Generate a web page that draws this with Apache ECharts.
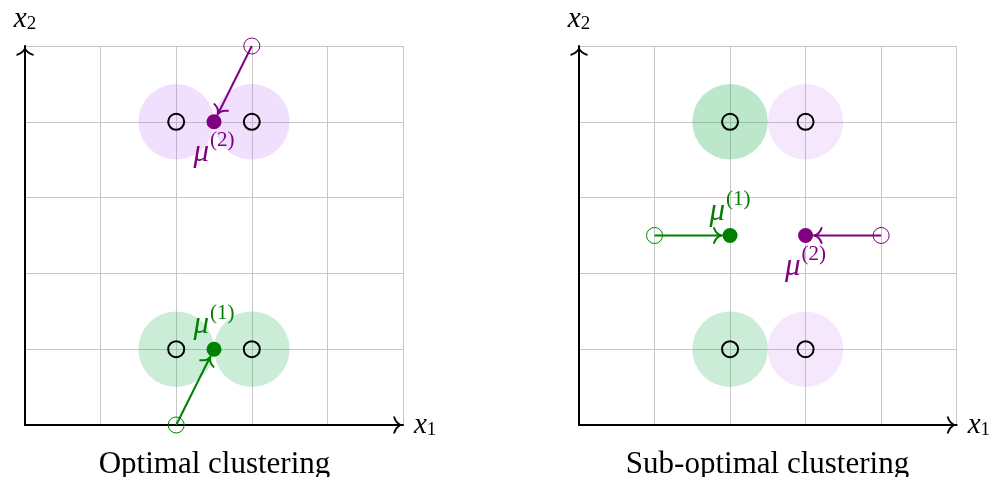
<!DOCTYPE html>
<html>
<head>
<meta charset="utf-8">
<script src="https://cdn.jsdelivr.net/npm/echarts@6/dist/echarts.min.js"></script>
<style>html,body{margin:0;padding:0;background:#fff}#c{width:993px;height:477px}</style>
</head>
<body>
<div id="c"></div>
<script>
// ---- data ----
const axisMin = 0, axisMax = 5, axisStep = 1;
const dataPoints = [[2, 1], [3, 1], [2, 4], [3, 4]];
const clusterRadius = 0.5;
// left panel (optimal)
const leftCluster1 = [[2, 1], [3, 1]];
const leftCluster2 = [[2, 4], [3, 4]];
const leftMu1 = [2.5, 1], leftMu1Start = [2, 0];
const leftMu2 = [2.5, 4], leftMu2Start = [3, 5];
// right panel (sub-optimal)
const rightCluster1 = [[2, 1], [2, 4]];
const rightCluster2 = [[3, 1], [3, 4]];
const rightMu1 = [2, 2.5], rightMu1Start = [1, 2.5];
const rightMu2 = [3, 2.5], rightMu2Start = [4, 2.5];
const panelTitles = ['Optimal clustering', 'Sub-optimal clustering'];
const muLabels = ['(1)', '(2)'];
const axisNames = ['1', '2'];

// ---- styles ----
const GREEN = '#008000', PURPLE = '#800080';
const SERIF = '"Liberation Serif", "DejaVu Serif", serif';
const arrowPath = 'path://M10,-0.5 Q12,6.5 20,9 L20,11.2 Q10.5,8.5 10,2.5 Q9.5,8.5 0,11.2 L0,9 Q8,6.5 10,-0.5 Z';

function nameRich() {
  return {rich: {
    v: {fontFamily: SERIF, fontStyle: 'italic', fontSize: 29, lineHeight: 30, color: '#000'},
    s: {fontFamily: SERIF, fontSize: 19, lineHeight: 14, verticalAlign: 'bottom', color: '#000'}
  }};
}
function axisLineCfg() {
  return {show: true, onZero: false, lineStyle: {color: '#000', width: 2},
    symbol: ['none', arrowPath], symbolSize: [17, 10], symbolOffset: [0, -5]};
}
function xAxisCfg(gi) {
  return {
    gridIndex: gi, type: 'value', min: axisMin, max: axisMax, interval: axisStep,
    axisLabel: {show: false}, axisTick: {show: false},
    splitLine: {show: true, lineStyle: {color: '#c6c6c6', width: 1}},
    axisLine: axisLineCfg(),
    name: '{v|x}{s|' + axisNames[0] + '}', nameLocation: 'end', nameGap: 11,
    nameTextStyle: nameRich()
  };
}
function yAxisCfg(gi) {
  return {
    gridIndex: gi, type: 'value', min: axisMin, max: axisMax, interval: axisStep,
    axisLabel: {show: false}, axisTick: {show: false},
    splitLine: {show: true, lineStyle: {color: '#c6c6c6', width: 1}},
    axisLine: axisLineCfg(),
    name: '{v|x}{s|' + axisNames[1] + '}', nameLocation: 'end', nameGap: 12,
    nameTextStyle: nameRich()
  };
}

function clusterSeries(gi, pts, fill) {
  return {
    type: 'custom', xAxisIndex: gi, yAxisIndex: gi, silent: true, z: 1,
    data: pts,
    renderItem: function (params, api) {
      const c = api.coord([api.value(0), api.value(1)]);
      const r = api.size([clusterRadius, clusterRadius])[0];
      return {type: 'circle', shape: {cx: c[0], cy: c[1], r: r}, style: {fill: fill}};
    }
  };
}
function pointsSeries(gi) {
  return {
    type: 'scatter', xAxisIndex: gi, yAxisIndex: gi, z: 5, silent: true,
    symbol: 'circle', symbolSize: 16,
    itemStyle: {color: 'rgba(0,0,0,0)', borderColor: '#000', borderWidth: 2, opacity: 1},
    data: dataPoints
  };
}
function arrowSeries(gi, from, to, color) {
  return {
    type: 'custom', xAxisIndex: gi, yAxisIndex: gi, silent: true, z: 4,
    encode: {x: [0, 2], y: [1, 3]},
    data: [[from[0], from[1], to[0], to[1]]],
    renderItem: function (params, api) {
      const p0 = api.coord([api.value(0), api.value(1)]);
      const p1 = api.coord([api.value(2), api.value(3)]);
      const dx = p1[0] - p0[0], dy = p1[1] - p0[1];
      const L = Math.hypot(dx, dy);
      const ux = dx / L, uy = dy / L, nx = -uy, ny = ux;
      const gap = 8.5;
      const tx = p1[0] - ux * gap, ty = p1[1] - uy * gap;
      const back = 7.5, w = 7.5;
      const bx = tx - ux * back, by = ty - uy * back;
      const cx = tx - ux * 5.5, cy = ty - uy * 5.5;
      const path = 'M' + (bx + nx * w) + ',' + (by + ny * w) +
        ' Q' + (cx + nx * 1.2) + ',' + (cy + ny * 1.2) + ' ' + tx + ',' + ty +
        ' Q' + (cx - nx * 1.2) + ',' + (cy - ny * 1.2) + ' ' + (bx - nx * w) + ',' + (by - ny * w);
      return {type: 'group', children: [
        {type: 'line', shape: {x1: p0[0], y1: p0[1], x2: tx, y2: ty}, style: {stroke: color, lineWidth: 2}},
        {type: 'path', shape: {pathData: path}, style: {stroke: color, fill: null, lineWidth: 2, lineCap: 'round'}}
      ]};
    }
  };
}
function startSeries(gi, pt, color) {
  return {
    type: 'scatter', xAxisIndex: gi, yAxisIndex: gi, z: 6, silent: true,
    symbol: 'circle', symbolSize: 16,
    itemStyle: {color: 'rgba(255,255,255,0)', borderColor: color, borderWidth: 1, opacity: 1},
    data: [pt]
  };
}
function muSeries(gi, pt, color, labelText, pos) {
  return {
    type: 'scatter', xAxisIndex: gi, yAxisIndex: gi, z: 7, silent: true,
    symbol: 'circle', symbolSize: 15,
    itemStyle: {color: color, opacity: 1},
    label: {
      show: true, position: pos, distance: 1,
      formatter: '{m|μ}{s|' + labelText + '}',
      rich: {
        m: {fontFamily: SERIF, fontStyle: 'italic', fontSize: 31, lineHeight: 38, color: color, verticalAlign: 'bottom'},
        s: {fontFamily: SERIF, fontSize: 21, lineHeight: 22, color: color, verticalAlign: 'top', padding: [0, 0, 0, 1]}
      }
    },
    data: [pt]
  };
}

const option = {
  animation: false,
  backgroundColor: '#fff',
  grid: [
    {left: 25, top: 46, width: 378, height: 379},
    {left: 579, top: 46, width: 378, height: 379}
  ],
  xAxis: [xAxisCfg(0), xAxisCfg(1)],
  yAxis: [yAxisCfg(0), yAxisCfg(1)],
  graphic: [
    {type: 'text', x: 214.5, y: 465, silent: true,
      style: {text: panelTitles[0], font: '31px ' + SERIF, fill: '#000', textAlign: 'center', textVerticalAlign: 'middle', align: 'center', verticalAlign: 'middle'}},
    {type: 'text', x: 767.5, y: 465, silent: true,
      style: {text: panelTitles[1], font: '31px ' + SERIF, fill: '#000', textAlign: 'center', textVerticalAlign: 'middle', align: 'center', verticalAlign: 'middle'}}
  ],
  series: [
    clusterSeries(0, leftCluster1, 'rgba(46,180,90,0.25)'),
    clusterSeries(0, leftCluster2, 'rgba(185,110,245,0.22)'),
    clusterSeries(1, [rightCluster1[0]], 'rgba(46,180,90,0.25)'),
    clusterSeries(1, [rightCluster1[1]], 'rgba(46,180,90,0.32)'),
    clusterSeries(1, rightCluster2, 'rgba(190,110,245,0.16)'),
    pointsSeries(0),
    pointsSeries(1),
    arrowSeries(0, leftMu1Start, leftMu1, GREEN),
    arrowSeries(0, leftMu2Start, leftMu2, PURPLE),
    arrowSeries(1, rightMu1Start, rightMu1, GREEN),
    arrowSeries(1, rightMu2Start, rightMu2, PURPLE),
    startSeries(0, leftMu1Start, GREEN),
    startSeries(0, leftMu2Start, PURPLE),
    startSeries(1, rightMu1Start, GREEN),
    startSeries(1, rightMu2Start, PURPLE),
    muSeries(0, leftMu1, GREEN, muLabels[0], 'top'),
    muSeries(0, leftMu2, PURPLE, muLabels[1], 'bottom'),
    muSeries(1, rightMu1, GREEN, muLabels[0], 'top'),
    muSeries(1, rightMu2, PURPLE, muLabels[1], 'bottom')
  ]
};
const chart = echarts.init(document.getElementById('c'), null, {renderer: 'canvas'});
chart.setOption(option);
</script>
</body>
</html>
